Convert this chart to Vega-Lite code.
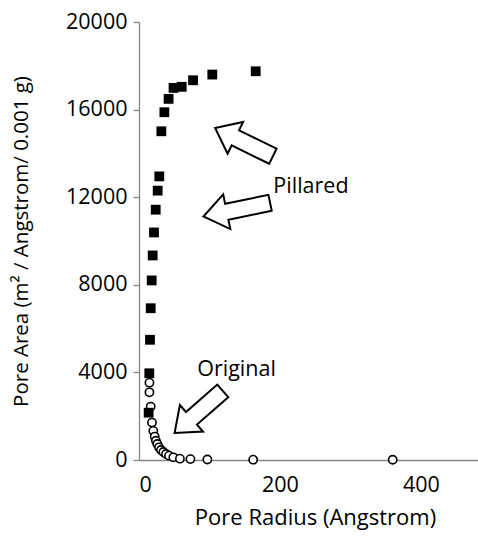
{
  "$schema": "https://vega.github.io/schema/vega-lite/v6.json",
  "width": 339,
  "height": 438,
  "autosize": {"type": "none"},
  "padding": {"left": 139, "top": 22, "right": 0, "bottom": 88},
  "background": "white",
  "config": {
    "view": {"stroke": null},
    "font": "Open Sans",
    "axis": {"grid": false, "domainColor": "#868686", "tickColor": "#868686", "labelColor": "#000000", "titleColor": "#000000", "labelFont": "Open Sans", "titleFont": "Open Sans", "labelFontSize": 21.5, "titleFontSize": 21.5, "titleFontWeight": "normal", "domainWidth": 1.3, "tickWidth": 1.3, "format": "d"}
  },
  "datasets": {
    "pores": [
      {"series": "Original", "radius": 14.8, "area": 3530},
      {"series": "Original", "radius": 14.8, "area": 3090},
      {"series": "Original", "radius": 16.6, "area": 2440},
      {"series": "Original", "radius": 18.4, "area": 1710},
      {"series": "Original", "radius": 20.3, "area": 1330},
      {"series": "Original", "radius": 22.3, "area": 1070},
      {"series": "Original", "radius": 24.0, "area": 880},
      {"series": "Original", "radius": 26.0, "area": 730},
      {"series": "Original", "radius": 28.4, "area": 580},
      {"series": "Original", "radius": 31.2, "area": 457},
      {"series": "Original", "radius": 34.5, "area": 366},
      {"series": "Original", "radius": 38.3, "area": 274},
      {"series": "Original", "radius": 42.6, "area": 197},
      {"series": "Original", "radius": 48.7, "area": 123},
      {"series": "Original", "radius": 58, "area": 60},
      {"series": "Original", "radius": 73, "area": 40},
      {"series": "Original", "radius": 97, "area": 25},
      {"series": "Original", "radius": 162, "area": 15},
      {"series": "Original", "radius": 360, "area": 10},
      {"series": "Pillared", "radius": 13.7, "area": 2160},
      {"series": "Pillared", "radius": 14.6, "area": 3960},
      {"series": "Pillared", "radius": 15.6, "area": 5490},
      {"series": "Pillared", "radius": 16.6, "area": 6930},
      {"series": "Pillared", "radius": 18.0, "area": 8200},
      {"series": "Pillared", "radius": 19.4, "area": 9340},
      {"series": "Pillared", "radius": 21.3, "area": 10390},
      {"series": "Pillared", "radius": 23.7, "area": 11430},
      {"series": "Pillared", "radius": 26.5, "area": 12300},
      {"series": "Pillared", "radius": 28.8, "area": 12950},
      {"series": "Pillared", "radius": 31.7, "area": 15010},
      {"series": "Pillared", "radius": 36.0, "area": 15880},
      {"series": "Pillared", "radius": 42.0, "area": 16490},
      {"series": "Pillared", "radius": 49.0, "area": 16990},
      {"series": "Pillared", "radius": 60.6, "area": 17040},
      {"series": "Pillared", "radius": 76.7, "area": 17340},
      {"series": "Pillared", "radius": 104, "area": 17600},
      {"series": "Pillared", "radius": 165.6, "area": 17750}
    ],
    "labels": [
      {"radius": 244, "area": 12480, "text": "Pillared"},
      {"radius": 138.4, "area": 4114, "text": "Original"}
    ]
  },
  "layer": [
    {
      "data": {"name": "pores"},
      "transform": [{"filter": "datum.series === 'Original'"}],
      "mark": {"type": "point", "shape": "circle", "filled": false, "fill": "white", "stroke": "black", "strokeWidth": 1.6, "size": 68, "opacity": 1},
      "encoding": {
        "x": {"field": "radius", "type": "quantitative", "scale": {"domain": [0, 481], "nice": false}, "axis": {"values": [0, 200, 400], "ticks": false, "labelPadding": 14, "title": "Pore Radius (Angstrom)", "titleFontSize": 22, "titlePadding": 12, "titleX": 176}},
        "y": {"field": "area", "type": "quantitative", "scale": {"domain": [0, 20000], "nice": false}, "axis": {"values": [0, 4000, 8000, 12000, 16000, 20000], "tickSize": 6, "labelPadding": 6, "title": "Pore Area (m² / Angstrom/ 0.001 g)", "titleFontSize": 20.5, "titlePadding": 34}}
      }
    },
    {
      "data": {"name": "pores"},
      "transform": [{"filter": "datum.series === 'Pillared'"}],
      "mark": {"type": "point", "shape": "square", "filled": true, "color": "black", "size": 96, "opacity": 1},
      "encoding": {
        "x": {"field": "radius", "type": "quantitative"},
        "y": {"field": "area", "type": "quantitative"}
      }
    },
    {
      "data": {"values": [{"radius": 149, "area": 14514}]},
      "mark": {"type": "point", "shape": "M-1,-0.26L0.3,-0.26L0.3,-0.55L1,0L0.3,0.55L0.3,0.26L-1,0.26Z", "filled": true, "fill": "white", "stroke": "black", "strokeWidth": 2, "size": 4134, "angle": 206, "opacity": 1},
      "encoding": {"x": {"field": "radius", "type": "quantitative"}, "y": {"field": "area", "type": "quantitative"}}
    },
    {
      "data": {"values": [{"radius": 138.7, "area": 11430}]},
      "mark": {"type": "point", "shape": "M-1,-0.24L0.3,-0.24L0.3,-0.52L1,0L0.3,0.52L0.3,0.24L-1,0.24Z", "filled": true, "fill": "white", "stroke": "black", "strokeWidth": 2, "size": 4624, "angle": 168.4, "opacity": 1},
      "encoding": {"x": {"field": "radius", "type": "quantitative"}, "y": {"field": "area", "type": "quantitative"}}
    },
    {
      "data": {"values": [{"radius": 84.7, "area": 2194}]},
      "mark": {"type": "point", "shape": "M-1,-0.26L0.3,-0.26L0.3,-0.55L1,0L0.3,0.55L0.3,0.26L-1,0.26Z", "filled": true, "fill": "white", "stroke": "black", "strokeWidth": 2, "size": 4096, "angle": 138.8, "opacity": 1},
      "encoding": {"x": {"field": "radius", "type": "quantitative"}, "y": {"field": "area", "type": "quantitative"}}
    },
    {
      "data": {"name": "labels"},
      "mark": {"type": "text", "font": "Open Sans", "fontSize": 21.5, "color": "black", "align": "center", "baseline": "middle"},
      "encoding": {"x": {"field": "radius", "type": "quantitative"}, "y": {"field": "area", "type": "quantitative"}, "text": {"field": "text"}}
    }
  ]
}
